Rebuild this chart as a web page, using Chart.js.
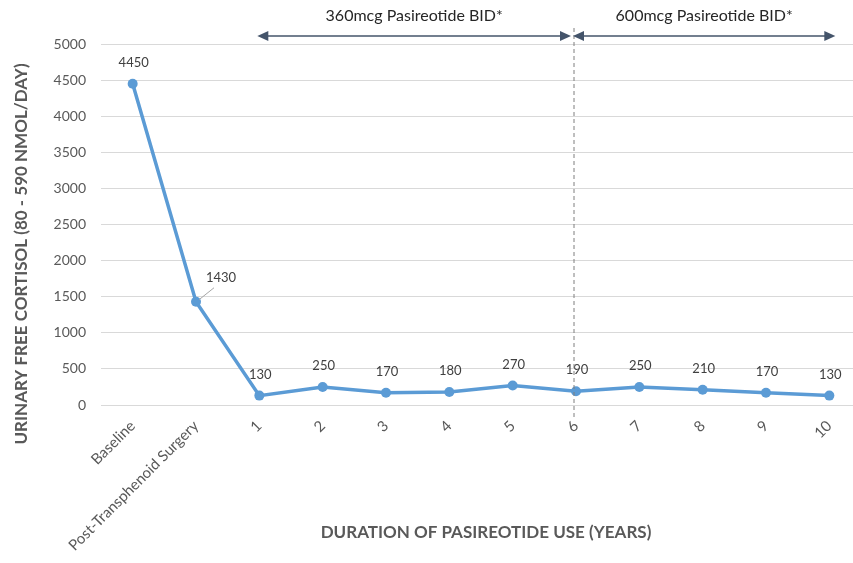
<!DOCTYPE html>
<html lang="en">
<head>
<meta charset="UTF-8">
<title>Urinary free cortisol</title>
<style>
  html, body { margin: 0; padding: 0; background: #fff; overflow: hidden; }
  #wrap { width: 866px; height: 563px; position: relative; }
</style>
</head>
<body>
<div id="wrap"><canvas id="chart"></canvas></div>

<script src="https://cdn.jsdelivr.net/npm/chart.js"></script>
<script>
  const categories = ['Baseline', 'Post-Transphenoid Surgery', '1', '2', '3', '4', '5', '6', '7', '8', '9', '10'];
  const cortisol = [4450, 1430, 130, 250, 170, 180, 270, 190, 250, 210, 170, 130];
  const yTicks = [0, 500, 1000, 1500, 2000, 2500, 3000, 3500, 4000, 4500, 5000];
  const phases = [
    { label: '360mcg Pasireotide BID*', from: '1', to: '6' },
    { label: '600mcg Pasireotide BID*', from: '6', to: '10' }
  ];

  const FONT = 'Lato, "Open Sans", sans-serif';

  // values above the points, 1430 pushed out with a leader line
  const valueLabels = {
    id: 'valueLabels',
    afterDatasetsDraw(chart) {
      const ctx = chart.ctx;
      const meta = chart.getDatasetMeta(0);
      ctx.save();
      ctx.font = '13px ' + FONT;
      ctx.fillStyle = '#404040';
      ctx.textAlign = 'center';
      ctx.textBaseline = 'middle';
      meta.data.forEach((pt, i) => {
        if (i === 1) {
          ctx.strokeStyle = '#a6a6a6';
          ctx.lineWidth = 1;
          ctx.beginPath();
          ctx.moveTo(pt.x + 3, pt.y - 2);
          ctx.lineTo(pt.x + 18, pt.y - 14);
          ctx.stroke();
          ctx.fillText(cortisol[i], pt.x + 25, pt.y - 24);
        } else {
          ctx.fillText(cortisol[i], pt.x + 1, pt.y - 21);
        }
      });
      ctx.restore();
    }
  };

  function arrowHead(ctx, x, y, dir) {
    ctx.beginPath();
    ctx.moveTo(x, y);
    ctx.lineTo(x - dir * 11, y - 5);
    ctx.lineTo(x - dir * 11, y + 5);
    ctx.closePath();
    ctx.fill();
  }

  const phaseMarks = {
    id: 'phaseMarks',
    afterDraw(chart) {
      const ctx = chart.ctx;
      const xs = chart.scales.x;
      const ys = chart.scales.y;
      const ay = 36;
      ctx.save();
      // dashed split line at year 6
      const sx = xs.getPixelForValue(categories.indexOf('6')) - 2;
      ctx.strokeStyle = '#7f7f7f';
      ctx.lineWidth = 1;
      ctx.setLineDash([4, 3]);
      ctx.beginPath();
      ctx.moveTo(sx, 28);
      ctx.lineTo(sx, ys.getPixelForValue(0) + 12);
      ctx.stroke();
      ctx.setLineDash([]);

      phases.forEach((p, k) => {
        let x1 = xs.getPixelForValue(categories.indexOf(p.from));
        let x2 = xs.getPixelForValue(categories.indexOf(p.to));
        if (k === 0) { x1 -= 2; x2 -= 5; } else { x1 -= 3; x2 += 6; }
        ctx.strokeStyle = '#44546a';
        ctx.fillStyle = '#44546a';
        ctx.lineWidth = 1.5;
        ctx.beginPath();
        ctx.moveTo(x1 + 5, ay);
        ctx.lineTo(x2 - 5, ay);
        ctx.stroke();
        arrowHead(ctx, x1, ay, -1);
        arrowHead(ctx, x2, ay, 1);
        ctx.font = '16px ' + FONT;
        ctx.fillStyle = '#262626';
        ctx.textAlign = 'center';
        ctx.textBaseline = 'middle';
        ctx.fillText(p.label, (x1 + x2) / 2, 16);
      });

      // axis titles
      ctx.font = 'bold 17px ' + FONT;
      ctx.fillStyle = '#595959';
      ctx.textAlign = 'center';
      ctx.textBaseline = 'middle';
      ctx.fillText('DURATION OF PASIREOTIDE USE (YEARS)', 486, 533);
      ctx.translate(22, 254);
      ctx.rotate(-Math.PI / 2);
      ctx.fillText('URINARY FREE CORTISOL (80 - 590 NMOL/DAY)', 0, 0);
      ctx.restore();
    }
  };

  new Chart(document.getElementById('chart'), {
    type: 'line',
    data: {
      labels: categories,
      datasets: [{
        data: cortisol,
        borderColor: '#5b9bd5',
        backgroundColor: '#5b9bd5',
        borderWidth: 3.5,
        pointRadius: 5,
        pointHoverRadius: 5,
        pointBorderWidth: 0,
        tension: 0
      }]
    },
    options: {
      responsive: true,
      maintainAspectRatio: false,
      animation: false,
      layout: { padding: { top: 44, right: 1, left: 0, bottom: 0 } },
      plugins: { legend: { display: false }, tooltip: { enabled: false } },
      scales: {
        x: {
          offset: true,
          grid: { display: false, drawTicks: false },
          border: { display: false },
          ticks: {
            autoSkip: false,
            maxRotation: 45,
            minRotation: 45,
            padding: 12,
            color: '#595959',
            font: { family: FONT, size: 15 }
          },
          afterFit(scale) { scale.height = 158; }
        },
        y: {
          min: 0,
          max: 5000,
          afterBuildTicks(scale) { scale.ticks = yTicks.map(v => ({ value: v })); },
          grid: { color: '#d9d9d9', lineWidth: 1, drawTicks: false },
          border: { display: false },
          ticks: {
            padding: 15,
            color: '#595959',
            font: { family: FONT, size: 14 },
            callback: v => String(v)
          },
          afterFit(scale) { scale.width = 101; }
        }
      }
    },
    plugins: [valueLabels, phaseMarks]
  });
</script>
</body>
</html>
